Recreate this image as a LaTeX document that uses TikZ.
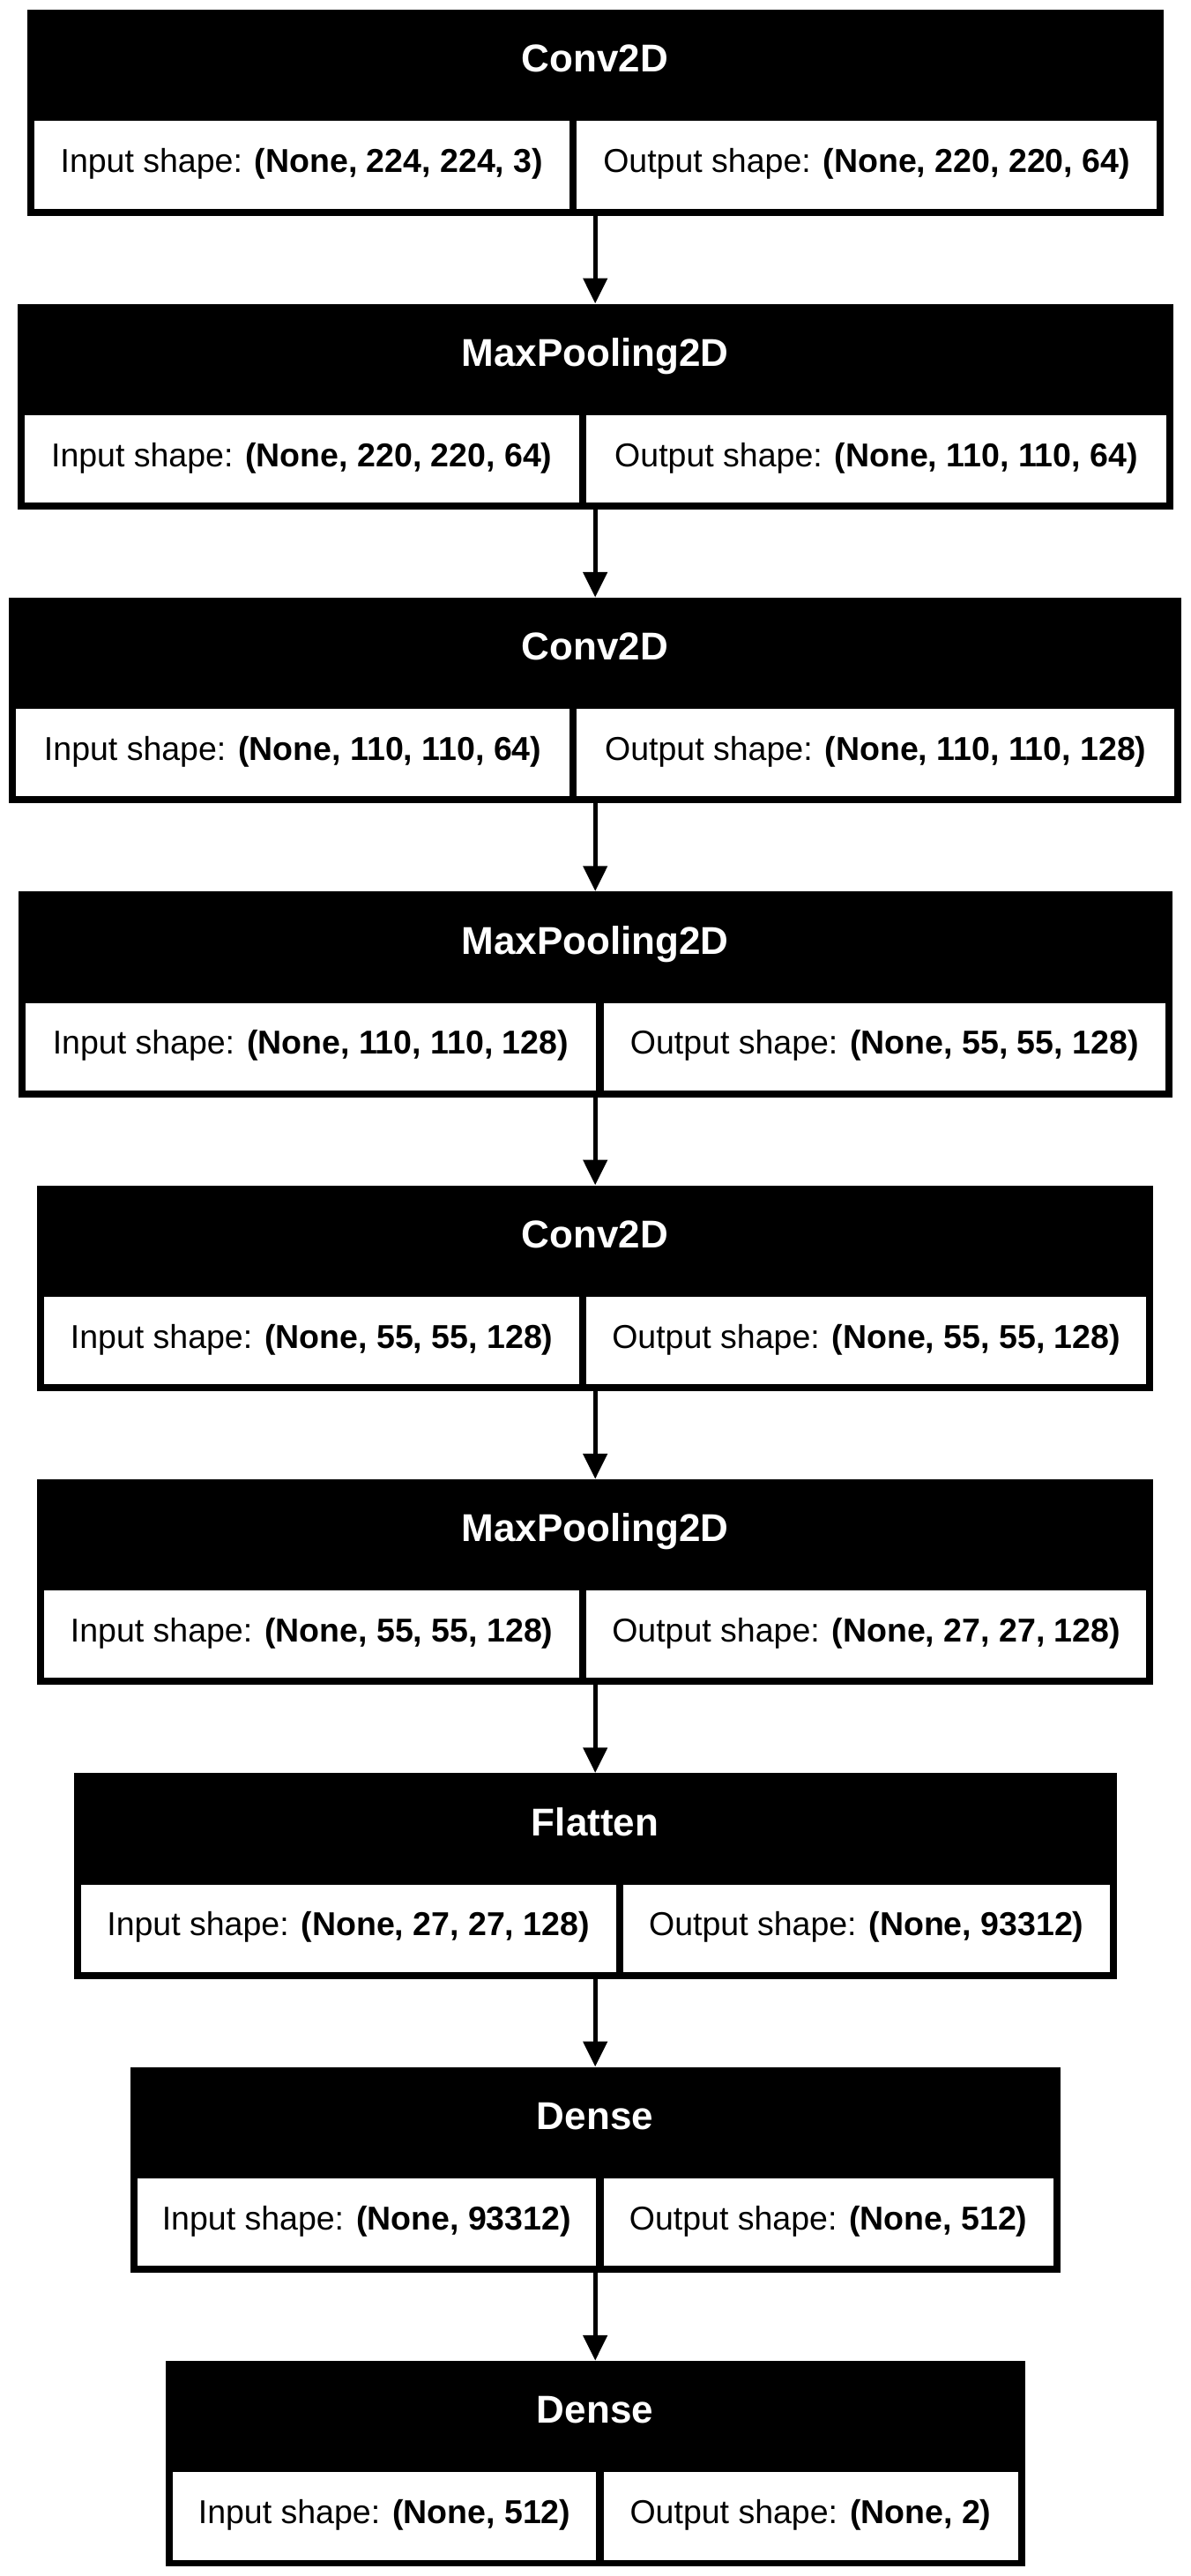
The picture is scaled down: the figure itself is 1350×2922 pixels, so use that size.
\documentclass[tikz,border=0pt]{standalone}
\usepackage{fontspec}
\setmainfont{Liberation Sans}
\usetikzlibrary{arrows.meta}
\tikzset{
  outerbox/.style={fill=black, inner sep=0pt, anchor=north west, minimum height=233.4pt},
  cellbox/.style={fill=white, inner sep=0pt, anchor=north west, minimum height=99.3pt,
    text=black, font=\fontsize{37.5}{45}\selectfont, text height=31pt, text depth=13.9pt},
  titletext/.style={text=white, inner sep=0pt, anchor=base, font=\fontsize{44}{52}\selectfont\bfseries},
  flow/.style={line width=5.3pt, -{Triangle[length=28.7pt,width=26.7pt]}},
}
% #1 name, #2 index, #3 half width, #4 divider centre, #5 title, #6 input text, #7 output text
\newcommand{\layerblock}[7]{%
  \pgfmathsetmacro{\lbT}{11+333.333*#2}%
  \pgfmathsetmacro{\lbW}{2*#3}%
  \pgfmathsetmacro{\lbL}{675-#3}%
  \pgfmathsetmacro{\lbR}{675+#3}%
  \pgfmathsetmacro{\lbLW}{#4-4.15-\lbL-8}%
  \pgfmathsetmacro{\lbRW}{\lbR-8-#4-4.15}%
  \node[outerbox, minimum width=\lbW pt] (#1) at (\lbL,\lbT) {};
  \node[titletext] (#1t) at (675,\lbT+71) {#5};
  \node[cellbox, minimum width=\lbLW pt] (#1i) at (\lbL+8,\lbT+126.3) {#6};
  \node[cellbox, minimum width=\lbRW pt] (#1o) at (#4+4.15,\lbT+126.3) {#7};
}
\begin{document}
\begin{tikzpicture}[x=1pt,y=-1pt]
  \fill[white] (0,0) rectangle (1350,2922);
  \useasboundingbox (0,0) rectangle (1350,2922);
  \layerblock{b1}{0}{644.5}{650}{Conv2D}{Input shape: \textbf{(None, 224, 224, 3)}}{Output shape: \textbf{(None, 220, 220, 64)}}
  \layerblock{b2}{1}{655.5}{660.85}{MaxPooling2D}{Input shape: \textbf{(None, 220, 220, 64)}}{Output shape: \textbf{(None, 110, 110, 64)}}
  \layerblock{b3}{2}{665}{650}{Conv2D}{Input shape: \textbf{(None, 110, 110, 64)}}{Output shape: \textbf{(None, 110, 110, 128)}}
  \layerblock{b4}{3}{654.7}{680.15}{MaxPooling2D}{Input shape: \textbf{(None, 110, 110, 128)}}{Output shape: \textbf{(None, 55, 55, 128)}}
  \layerblock{b5}{4}{632.8}{660.85}{Conv2D}{Input shape: \textbf{(None, 55, 55, 128)}}{Output shape: \textbf{(None, 55, 55, 128)}}
  \layerblock{b6}{5}{632.8}{660.85}{MaxPooling2D}{Input shape: \textbf{(None, 55, 55, 128)}}{Output shape: \textbf{(None, 27, 27, 128)}}
  \layerblock{b7}{6}{591.5}{702.5}{Flatten}{Input shape: \textbf{(None, 27, 27, 128)}}{Output shape: \textbf{(None, 93312)}}
  \layerblock{b8}{7}{527.7}{680.15}{Dense}{Input shape: \textbf{(None, 93312)}}{Output shape: \textbf{(None, 512)}}
  \layerblock{b9}{8}{487.3}{680.15}{Dense}{Input shape: \textbf{(None, 512)}}{Output shape: \textbf{(None, 2)}}
  \draw[flow] (b1.south) -- (b2.north);
  \draw[flow] (b2.south) -- (b3.north);
  \draw[flow] (b3.south) -- (b4.north);
  \draw[flow] (b4.south) -- (b5.north);
  \draw[flow] (b5.south) -- (b6.north);
  \draw[flow] (b6.south) -- (b7.north);
  \draw[flow] (b7.south) -- (b8.north);
  \draw[flow] (b8.south) -- (b9.north);
\end{tikzpicture}
\end{document}
